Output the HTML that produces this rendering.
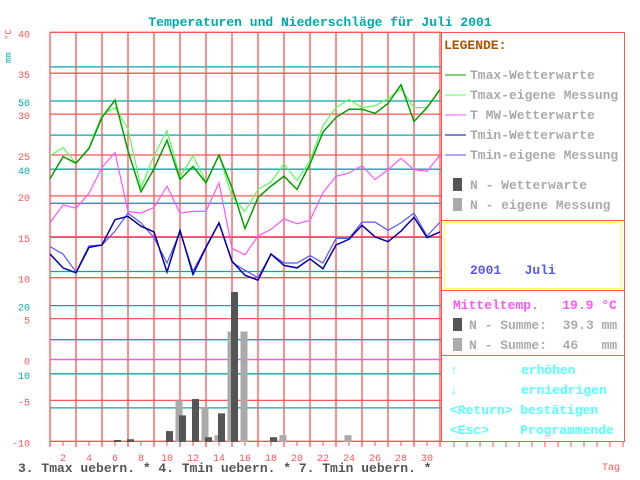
<!DOCTYPE html>
<html><head><meta charset="utf-8"><style>
html,body{margin:0;padding:0;background:#fff;}
svg{display:block;font-family:"Liberation Mono",monospace;}
svg text{white-space:pre;}
</style></head><body>
<svg id="c" width="640" height="480" viewBox="0 0 640 480" xmlns="http://www.w3.org/2000/svg" xml:space="preserve">
<rect x="0" y="0" width="640" height="480" fill="#fff"/>
<text x="320" y="26" text-anchor="middle" font-size="13" font-weight="bold" fill="#00aaaa">Temperaturen und Niederschläge für Juli 2001</text>
<g id="grid"></g>
<g id="bars"></g>
<g id="lines"></g>
<g id="axes"></g>
<text transform="translate(11,40) rotate(-90)" font-size="9" fill="#ff5555">°C</text>
<text transform="translate(11,63) rotate(-90)" font-size="9" fill="#00aaaa">mm</text>
<g font-size="13" font-weight="bold">
<rect x="441.5" y="32.5" width="183" height="409" fill="none" stroke="#ff5555"/>
<line x1="441" y1="220.5" x2="625" y2="220.5" stroke="#ff5555"/>
<line x1="441" y1="290.5" x2="625" y2="290.5" stroke="#ff5555"/>
<line x1="441" y1="355.5" x2="625" y2="355.5" stroke="#ff5555"/>
<text x="444" y="49" fill="#aa5500">LEGENDE:</text>
<g><line x1="445" y1="75" x2="466" y2="75" stroke="#00a000"/><text x="470" y="79" fill="#aaaaaa">Tmax-Wetterwarte</text></g>
<g><line x1="445" y1="95" x2="466" y2="95" stroke="#55ff55"/><text x="470" y="99" fill="#aaaaaa">Tmax-eigene Messung</text></g>
<g><line x1="445" y1="115" x2="466" y2="115" stroke="#ff55ff"/><text x="470" y="119" fill="#aaaaaa">T MW-Wetterwarte</text></g>
<g><line x1="445" y1="135" x2="466" y2="135" stroke="#0000a8"/><text x="470" y="139" fill="#aaaaaa">Tmin-Wetterwarte</text></g>
<g><line x1="445" y1="155" x2="466" y2="155" stroke="#5555ff"/><text x="470" y="159" fill="#aaaaaa">Tmin-eigene Messung</text></g>
<g><rect x="453" y="178" width="9" height="13" fill="#555555"/><text x="470" y="189" fill="#aaaaaa">N - Wetterwarte</text></g>
<g><rect x="453" y="198" width="9" height="13" fill="#aaaaaa"/><text x="470" y="209" fill="#aaaaaa">N - eigene Messung</text></g>
<rect x="444.5" y="222.5" width="177" height="66" fill="none" stroke="#ffff55"/>
<text x="470" y="274" fill="#5555ff">2001   Juli</text>
<text x="453" y="309" fill="#ff55ff">Mitteltemp.   19.9 °C</text>
<rect x="453" y="318" width="9" height="13" fill="#555555"/>
<text x="469" y="329" fill="#aaaaaa">N - Summe:  39.3 mm</text>
<rect x="453" y="338" width="9" height="13" fill="#aaaaaa"/>
<text x="469" y="349" fill="#aaaaaa">N - Summe:  46   mm</text>
<text x="450" y="374" fill="#55ffff">↑</text><text x="521" y="374" fill="#55ffff">erhöhen</text>
<text x="450" y="394" fill="#55ffff">↓</text><text x="521" y="394" fill="#55ffff">erniedrigen</text>
<text x="450" y="414" fill="#55ffff">&lt;Return&gt; bestätigen</text>
<text x="450" y="434" fill="#55ffff">&lt;Esc&gt;    Programmende</text>
</g>
<text x="18" y="472" font-size="13" font-weight="bold" fill="#555555">3. Tmax uebern. * 4. Tmin uebern. * 7. Tmin uebern. *</text>
<text x="602" y="470" font-size="10" fill="#ff5555">Tag</text>
</svg>
<script>
const days = [1,2,3,4,5,6,7,8,9,10,11,12,13,14,15,16,17,18,19,20,21,22,23,24,25,26,27,28,29,30,31];
const tmaxWetterwarte = [22.1,24.8,24.0,25.8,29.6,31.7,25.5,20.5,23.3,26.8,22.0,23.6,21.6,25.0,21.0,16.0,19.8,21.2,22.4,20.8,23.9,27.8,29.6,30.6,30.6,30.1,31.3,33.6,29.1,30.8,33.0];
const tmaxEigene = [24.9,25.9,24.0,25.9,29.9,30.8,28.2,21.0,24.9,28.0,22.3,24.9,21.7,25.0,19.9,18.1,20.8,21.7,23.9,21.9,24.3,28.6,30.8,31.8,30.8,31.0,31.9,33.1,30.8,30.8,33.0];
const tmwWetterwarte = [16.7,18.9,18.5,20.3,23.5,25.3,18.1,17.9,18.6,21.2,17.9,18.1,18.1,21.6,13.6,12.8,15.1,15.9,17.2,16.6,17.0,20.4,22.4,22.8,23.7,22.0,23.2,24.6,23.2,23.0,25.0];
const tminWetterwarte = [12.9,11.2,10.6,13.7,14.0,17.1,17.5,16.3,15.6,10.7,15.8,10.4,13.7,16.7,12.0,10.3,9.7,12.9,11.5,11.2,12.3,11.1,14.0,14.7,16.4,15.0,14.4,15.7,17.4,14.9,15.6];
const tminEigene = [13.8,12.9,10.7,13.9,14.0,15.7,17.9,16.7,14.9,11.8,15.6,10.8,13.8,16.7,11.9,10.9,10.0,12.9,11.8,11.8,12.7,11.8,14.8,14.8,16.8,16.8,15.8,16.7,17.9,15.1,16.8];
const precipWetterwarte = [0,0,0,0,0,0.3,0.4,0,0,1.6,3.9,6.3,0.7,4.2,22.0,0,0,0.7,0,0,0,0,0,0,0,0,0,0,0,0,0];
const precipEigene = [0,0,0,0,0,0,0,0,0,0,6.1,0,5.1,1.0,16.2,16.2,0,0,1.0,0,0,0,0,1.0,0,0,0,0,0,0,0];
const tempTicks = [40,35,30,25,20,15,10,5,0,-5,-10];
const mmTicks = [50,40,20,10];
const dayTicks = [2,4,6,8,10,12,14,16,18,20,22,24,26,28,30];

const NS='http://www.w3.org/2000/svg';
const X0=50, TOP=32.3, BOT=441.3;
const xOf = d => X0 + (d-1)*13;
const yT = t => TOP + (40-t)*(BOT-TOP)/50;
const yMM = m => 442 - m*6.82;
function mk(tag, attrs, parent){const e=document.createElementNS(NS,tag);for(const k in attrs)e.setAttribute(k,attrs[k]);parent.appendChild(e);return e;}
const grid=document.getElementById('grid'), bars=document.getElementById('bars'), lines=document.getElementById('lines'), axes=document.getElementById('axes');

for(let m=5;m<=55;m+=5){
  const l=mk('line',{x1:X0,x2:441,y1:yMM(m),y2:yMM(m),stroke:'#00aaaa','stroke-width':1.3},grid);
  
  
}
for(const t of tempTicks){
  const l=mk('line',{x1:X0,x2:441,y1:yT(t),y2:yT(t),stroke:'#ff5555','stroke-width':1.3},grid);
  
  
  const tx=mk('text',{x:30,y:yT(t)+5,'text-anchor':'end','font-size':10,fill:'#ff5555'},axes);
  tx.textContent=t;
  
  
}
for(const m of mmTicks){
  const tx=mk('text',{x:30,y:yMM(m)+5,'text-anchor':'end','font-size':10,fill:'#00aaaa'},axes);
  tx.textContent=m;
  
  
}
for(let d=1;d<=31;d+=2){
  const l=mk('line',{x1:xOf(d),x2:xOf(d),y1:TOP,y2:447,stroke:'#ff5555','stroke-width':1.3},grid);
  
  
}
for(let x=454;x<=624;x+=13){
  const l=mk('line',{x1:x,x2:x,y1:442,y2:447,stroke:'#ff5555'},grid);
  
  
}
for(const d of dayTicks){
  const l=mk('line',{x1:xOf(d),x2:xOf(d),y1:442,y2:446,stroke:'#ff5555'},axes);
  
  
  const tx=mk('text',{x:xOf(d),y:461,'text-anchor':'middle','font-size':10,fill:'#ff5555'},axes);
  tx.textContent=d;
  
  
}
const zero=mk('line',{x1:X0,x2:441,y1:yT(0),y2:yT(0),stroke:'#ff55ff','stroke-width':1.3},grid);



days.forEach((d,i)=>{
  if(precipEigene[i]>0){
    const r=mk('rect',{x:xOf(d)-4.5,y:yMM(precipEigene[i]),width:7,height:442-yMM(precipEigene[i]),fill:'#aaaaaa'},bars);
    
    
  }
});
days.forEach((d,i)=>{
  if(precipWetterwarte[i]>0){
    const r=mk('rect',{x:xOf(d)-1,y:yMM(precipWetterwarte[i]),width:7,height:442-yMM(precipWetterwarte[i]),fill:'#555555'},bars);
    
    
  }
});
function series(vals,color,w,name){
  const p=mk('polyline',{points:days.map((d,i)=>xOf(d)+','+yT(vals[i]).toFixed(1)).join(' '),fill:'none',stroke:color,'stroke-width':w},lines);
  
  
}
series(tmwWetterwarte,'#ff55ff',1.2,'tmw-wetterwarte-line');
series(tminEigene,'#5555ff',1.2,'tmin-eigene-line');
series(tminWetterwarte,'#0000a8',1.5,'tmin-wetterwarte-line');
series(tmaxEigene,'#55ff55',1.2,'tmax-eigene-line');
series(tmaxWetterwarte,'#00a000',1.5,'tmax-wetterwarte-line');
</script>
</body></html>
